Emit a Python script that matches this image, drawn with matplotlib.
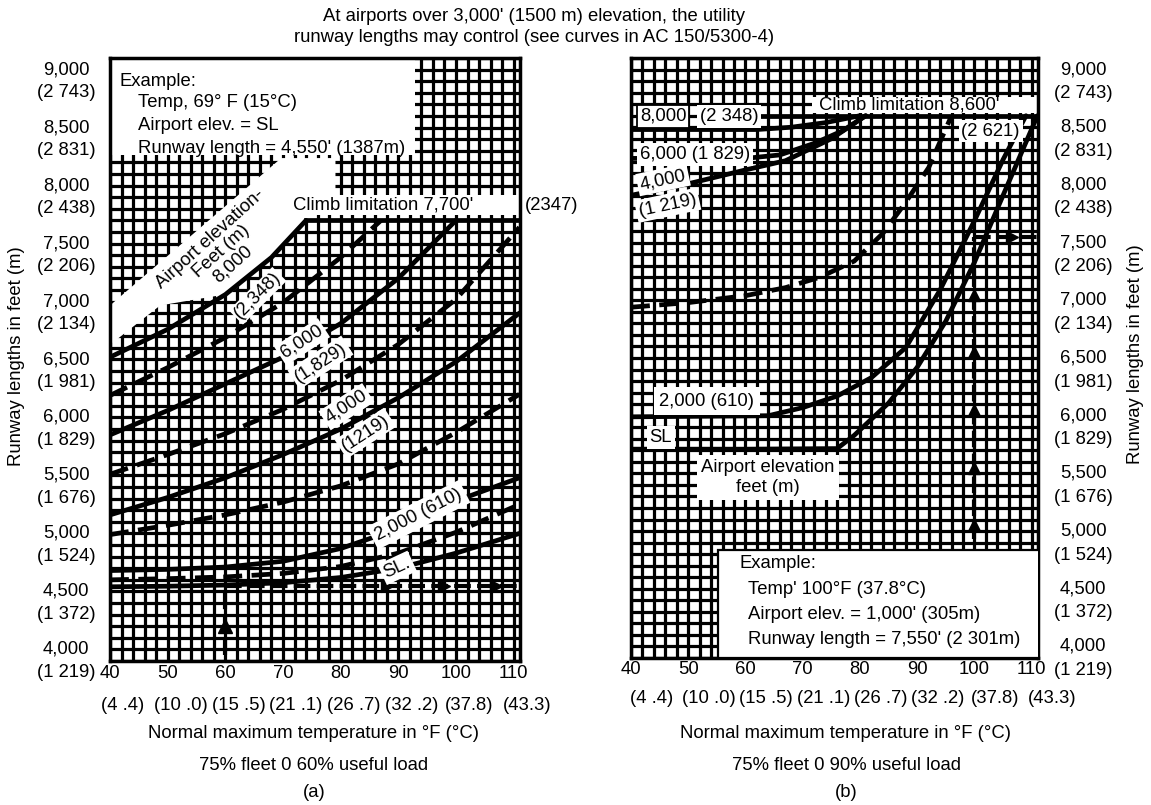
import matplotlib

matplotlib.use("Agg")
import matplotlib.pyplot as plt
import numpy as np
from matplotlib.patches import Polygon, Rectangle
from matplotlib.transforms import blended_transform_factory, offset_copy

plt.rcParams["font.family"] = ["Liberation Sans", "DejaVu Sans"]
plt.rcParams["font.size"] = 13.3

# ---- axis labels ---------------------------------------------------------
temp_f = [40, 50, 60, 70, 80, 90, 100, 110]
temp_c_labels = ["(4 .4)", "(10 .0)", "(15 .5)", "(21 .1)", "(26 .7)",
                 "(32 .2)", "(37.8)", "(43.3)"]
length_ft = [4000, 4500, 5000, 5500, 6000, 6500, 7000, 7500, 8000, 8500, 9000]
length_ft_labels = ["4,000", "4,500", "5,000", "5,500", "6,000", "6,500",
                    "7,000", "7,500", "8,000", "8,500", "9,000"]
length_m_labels = ["(1 219)", "(1 372)", "(1 524)", "(1 676)", "(1 829)",
                   "(1 981)", "(2 134)", "(2 206)", "(2 438)", "(2 831)", "(2 743)"]

# ---- chart (a): 75% of fleet at 60% useful load ---------------------------
a_temp = [40, 50, 60, 70, 80, 90, 100, 111]
a_len_sl = [4540, 4545, 4555, 4575, 4620, 4700, 4830, 5000]
a_len_1000 = [4600, 4610, 4625, 4655, 4715, 4830, 5010, 5250]
a_len_2000 = [4680, 4690, 4710, 4760, 4870, 5040, 5280, 5480]
a_len_3000 = [4990, 5070, 5160, 5270, 5410, 5600, 5870, 6200]
a_len_4000 = [5160, 5310, 5480, 5680, 5900, 6170, 6480, 6900]
a_len_5000 = [5510, 5680, 5860, 6070, 6320, 6630, 7020, 7640]
a_temp_6000 = [40, 50, 60, 70, 80, 90, 100]
a_len_6000 = [5850, 6060, 6290, 6520, 6810, 7200, 7700]
a_temp_7000 = [40, 50, 60, 70, 80, 87]
a_len_7000 = [6190, 6430, 6690, 6990, 7380, 7700]
a_temp_8000 = [40, 50, 60, 68, 74]
a_len_8000 = [6520, 6760, 7060, 7380, 7700]
a_climb_ft = 7700
a_example_temp = 60
a_example_len = 4550

# ---- chart (b): 75% of fleet at 90% useful load ---------------------------
b_temp_sl = [40, 60, 76, 79, 85, 90, 95, 100, 105, 111]
b_len_sl = [5710, 5710, 5715, 5830, 6110, 6420, 6820, 7330, 7910, 8600]
b_temp_2000 = [40, 64, 70, 76, 82, 88, 94, 100, 105, 109]
b_len_2000 = [5990, 6000, 6070, 6170, 6330, 6590, 7090, 7690, 8220, 8600]
b_temp_3000 = [40, 50, 60, 67, 73, 79, 84, 88, 92, 96]
b_len_3000 = [6940, 6980, 7040, 7110, 7200, 7340, 7580, 7850, 8150, 8600]
b_temp_4000 = [40, 50, 60, 67, 75, 81]
b_len_4000 = [7910, 8010, 8130, 8210, 8400, 8600]
b_temp_6000 = [40, 60, 66, 72, 77, 81]
b_len_6000 = [8230, 8230, 8260, 8360, 8470, 8600]
b_temp_8000 = [40, 62, 68, 74, 80]
b_len_8000 = [8480, 8480, 8500, 8540, 8600]
b_climb_ft = 8600
b_example_temp = 100
b_example_len = 7550

W, H = 1151, 805
fig = plt.figure(figsize=(W / 100, H / 100), dpi=100)


def px(x, y):
    return x / W, 1 - y / H


def add_axes(left, top, right, bottom):
    x0, y1 = px(left, top)
    x1, y0 = px(right, bottom)
    return fig.add_axes([x0, y0, x1 - x0, y1 - y0])


def setup(ax, ylim, tick_pad):
    ax.set_xlim(40, 111.1)
    ax.set_ylim(*ylim)
    ax.set_xticks(temp_f)
    ax.set_xticklabels([str(t) for t in temp_f])
    ax.set_xticks(np.arange(40, 112, 2), minor=True)
    ax.set_yticks(np.arange(3900, 9101, 100))
    ax.tick_params(which="both", length=0, labelleft=False, pad=tick_pad)
    ax.grid(which="both", color="black", lw=2.3)
    ax.set_axisbelow(True)
    for s in ax.spines.values():
        s.set_linewidth(2.5)


def curve(ax, t, l, dashed=False):
    ls = (0, (4, 2)) if dashed else "-"
    ax.plot(t, l, color="black", lw=3.4, ls=ls, solid_capstyle="round", zorder=3)


def y_labels(ax, x_axes, dy):
    tr = ax.get_yaxis_transform()
    tr2 = offset_copy(tr, fig=fig, y=-dy, units="points")
    for v, ft, m in zip(length_ft, length_ft_labels, length_m_labels):
        ax.text(x_axes, v, ft, transform=tr, ha="center", va="center", clip_on=False)
        ax.text(x_axes, v, m, transform=tr2, ha="center", va="center", clip_on=False)


def c_labels(ax, dx, dy):
    tr = blended_transform_factory(ax.transData, ax.transAxes)
    tr = offset_copy(tr, fig=fig, x=dx, y=-dy, units="points")
    for t, lab in zip(temp_f, temp_c_labels):
        ax.text(t, 0, lab, transform=tr, ha="center", va="center", clip_on=False)


def label(ax, x, y, s, rot=0, ha="center", pad=2, edge="none", **kw):
    ax.text(x, y, s, rotation=rot, rotation_mode="anchor", ha=ha, va="center",
            zorder=6, bbox=dict(fc="white", ec=edge, pad=pad, lw=1.3), **kw)


white = dict(fc="white", ec="none", zorder=2)

# ====================== chart (a) ======================
ax = add_axes(110, 58, 520, 661)
setup(ax, (3949, 9059), 3)
y_labels(ax, -0.107, 16.6)
c_labels(ax, 9.4, 31.7)

curve(ax, a_temp, a_len_sl)
curve(ax, a_temp, a_len_1000, dashed=True)
curve(ax, a_temp, a_len_2000)
curve(ax, a_temp, a_len_3000, dashed=True)
curve(ax, a_temp, a_len_4000)
curve(ax, a_temp, a_len_5000, dashed=True)
curve(ax, a_temp_6000, a_len_6000)
curve(ax, a_temp_7000, a_len_7000, dashed=True)
curve(ax, a_temp_8000, a_len_8000)
ax.plot([a_temp_8000[-1], 111.1], [a_climb_ft, a_climb_ft], color="black", lw=3.4, zorder=3)

# example path
ax.plot([a_example_temp, a_example_temp], [3949, a_example_len], color="black",
        lw=3, ls=(0, (4, 1.5)), zorder=3)
ax.plot([a_example_temp, 111.1], [a_example_len, a_example_len], color="black",
        lw=3, ls=(0, (4, 1.5)), zorder=3)
ax.plot([a_example_temp], [4200], marker="^", color="black", ms=10, zorder=3)
ax.plot([88, 98, 107], [a_example_len] * 3, ls="none", marker=">", color="black",
        ms=9, zorder=3)

# white areas
ax.add_patch(Rectangle((0, 0.839), 0.744, 0.161, transform=ax.transAxes, **white))
ax.add_patch(Polygon([(40, 6966), (69.7, 8237), (79.1, 8237), (79.1, 7941),
                      (67.1, 7330), (60.8, 7068), (48.7, 6966), (40, 6627)], **white))
ax.add_patch(Rectangle((70.7, 7746), 40.4, 169, **white))

ax.text(41.6, 8898, "Example:", va="center", zorder=6)
ax.text(44.9, 8712, "Temp, 69\u00b0 F (15\u00b0C)", va="center", zorder=6)
ax.text(44.9, 8517, "Airport elev. = SL", va="center", zorder=6)
ax.text(44.9, 8322, "Runway length = 4,550' (1387m)", va="center", zorder=6)
ax.text(71.8, 7830, "Climb limitation 7,700'", va="center", zorder=6)
ax.text(111.9, 7830, "(2347)", va="center", clip_on=False)

ax.text(59.3, 7430, "Airport elevation-\nFeet (m)\n8,000", rotation=42,
        rotation_mode="anchor", ha="center", va="center", multialignment="center",
        linespacing=1.0, zorder=6)
label(ax, 65.6, 7050, "(2,348)", 45, pad=1)
label(ax, 73.3, 6652, "6,000", 33)
label(ax, 76.5, 6474, "(1,829)", 33)
label(ax, 81.0, 6093, "4,000", 33)
label(ax, 84.3, 5864, "(1219)", 33)
label(ax, 93.5, 5161, "2,000 (610)", 27, pad=3)
label(ax, 89.8, 4703, "SL.", 25)

# ====================== chart (b) ======================
bx = add_axes(631, 58, 1038, 658)
setup(bx, (3932, 9008), 2)
y_labels(bx, 1.111, 17.3)
c_labels(bx, 15, 28.8)

curve(bx, b_temp_sl, b_len_sl)
curve(bx, b_temp_2000, b_len_2000)
curve(bx, b_temp_3000, b_len_3000, dashed=True)
curve(bx, b_temp_4000, b_len_4000)
curve(bx, b_temp_6000, b_len_6000)
curve(bx, b_temp_8000, b_len_8000)
bx.plot([62, 111.1], [b_climb_ft, b_climb_ft], color="black", lw=3.4, zorder=3)

bx.plot([b_example_temp, b_example_temp], [4930, b_example_len], color="black",
        lw=3, ls=(0, (4, 1.5)), zorder=3)
bx.plot([b_example_temp, 111.1], [b_example_len, b_example_len], color="black",
        lw=3, ls=(0, (4, 1.5)), zorder=3)
bx.plot([b_example_temp] * 5, [5050, 5550, 6050, 6550, 7050], ls="none", marker="^",
        color="black", ms=9, zorder=3)
bx.plot([106.5], [b_example_len], marker=">", color="black", ms=9, zorder=3)

bx.add_patch(Rectangle((0.214, 0), 0.8, 0.18, transform=bx.transAxes, fc="white",
                       ec="black", lw=1.6, zorder=4))
bx.add_patch(Rectangle((71.7, 8619), 39.4, 144, **white))

bx.text(59.0, 4719, "Example:", va="center", zorder=6)
bx.text(60.4, 4491, "Temp' 100\u00b0F (37.8\u00b0C)", va="center", zorder=6)
bx.text(60.4, 4279, "Airport elev. = 1,000' (305m)", va="center", zorder=6)
bx.text(60.4, 4059, "Runway length = 7,550' (2 301m)", va="center", zorder=6)
bx.text(72.9, 8695, "Climb limitation 8,600'", va="center", zorder=6)

label(bx, 41.6, 8594, "8,000", ha="left", edge="black")
label(bx, 52.0, 8594, "(2 348)", ha="left")
label(bx, 41.6, 8264, "6,000 (1 829)", ha="left")
label(bx, 45.6, 8044, "4,000", 12)
label(bx, 46.4, 7824, "(1 219)", 12)
label(bx, 97.7, 8467, "(2 621)", ha="left")
label(bx, 53.2, 6124, "2,000 (610)", pad=4)
label(bx, 45.2, 5810, "SL")
label(bx, 63.9, 5464, "Airport elevation\nfeet (m)", pad=3)

# ====================== figure texts ======================
fig.text(*px(534, 27), "At airports over 3,000' (1500 m) elevation, the utility\n"
         "runway lengths may control (see curves in AC 150/5300-4)",
         ha="center", va="center", linespacing=1.25)
for cx, load, tag in [(314, "60%", "(a)"), (846, "90%", "(b)")]:
    fig.text(*px(cx, 733), "Normal maximum temperature in \u00b0F (\u00b0C)", ha="center", va="center")
    fig.text(*px(cx, 765), f"75% fleet 0 {load} useful load", ha="center", va="center")
    fig.text(*px(cx, 792), tag, ha="center", va="center")
fig.text(*px(17, 356), "Runway lengths in feet (m)", rotation=90, ha="center", va="center")
fig.text(*px(1135, 354), "Runway lengths in feet (m)", rotation=90, ha="center", va="center")

fig.savefig("out.png", dpi=100)
